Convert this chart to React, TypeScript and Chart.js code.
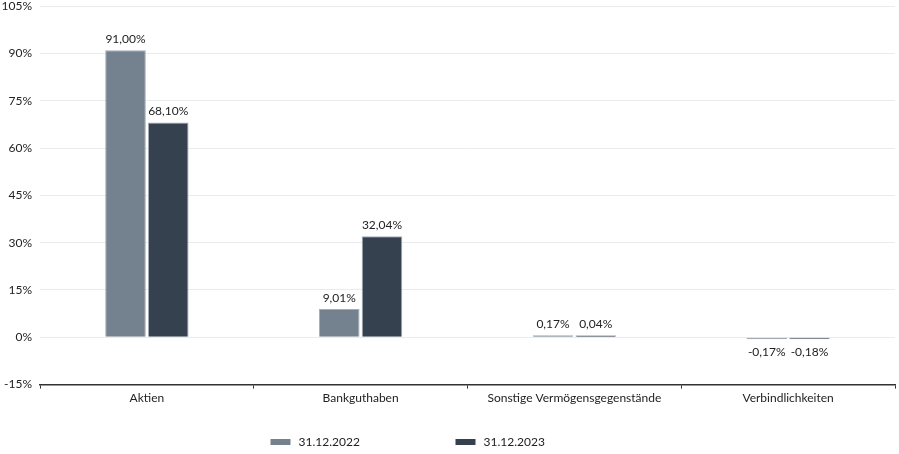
import { Chart, registerables } from 'chart.js';
import { useEffect, useRef } from 'react';

Chart.register(...registerables);

const categories = ['Aktien', 'Bankguthaben', 'Sonstige Vermögensgegenstände', 'Verbindlichkeiten'];
const seriesLabels = ['31.12.2022', '31.12.2023'];
const values2022 = [91.0, 9.01, 0.17, -0.17];
const values2023 = [68.1, 32.04, 0.04, -0.18];
const colors = ['#748290', '#36414f'];
const yMin = -15;
const yMax = 105;
const yStep = 15;

const FONT = 'Lato, "Open Sans", sans-serif';

const fmt = (v: number) => v.toFixed(2).replace('.', ',') + '%';

// Werte über/unter die Balken schreiben
const valueLabels = {
	id: 'valueLabels',
	afterDatasetsDraw(chart: any) {
		const ctx = chart.ctx;
		ctx.save();
		ctx.font = `12px ${FONT}`;
		ctx.fillStyle = '#222';
		ctx.textAlign = 'center';
		chart.data.datasets.forEach((ds: any, i: number) => {
			const meta = chart.getDatasetMeta(i);
			meta.data.forEach((bar: any, j: number) => {
				const v = ds.data[j] as number;
				if (v >= 0) {
					ctx.textBaseline = 'bottom';
					ctx.fillText(fmt(v), bar.x, bar.y - 5);
				} else {
					ctx.textBaseline = 'top';
					ctx.fillText(fmt(v), bar.x, bar.y + 7);
				}
			});
		});
		ctx.restore();
	},
};

// eigene Legende unten (breite Abstände)
const bottomLegend = {
	id: 'bottomLegend',
	afterDraw(chart: any) {
		const ctx = chart.ctx;
		const y = chart.height - 12;
		const x0 = chart.width / 2 - 179;
		ctx.save();
		ctx.font = `12px ${FONT}`;
		ctx.textBaseline = 'middle';
		ctx.textAlign = 'left';
		chart.data.datasets.forEach((ds: any, i: number) => {
			const x = x0 + i * 185;
			ctx.fillStyle = ds.backgroundColor;
			ctx.fillRect(x, y - 3, 20, 6);
			ctx.fillStyle = '#222';
			ctx.fillText(ds.label, x + 28, y);
		});
		ctx.restore();
	},
};

export default function App() {
	const canvas = useRef<HTMLCanvasElement | null>(null);
	useEffect(() => {
		if (!canvas.current) return;
		const chart = new Chart(canvas.current, {
			type: 'bar',
			data: {
				labels: categories,
				datasets: [
					{
						label: seriesLabels[0],
						data: values2022,
						backgroundColor: colors[0],
						borderColor: '#a4adb6',
						borderWidth: 1,
					},
					{
						label: seriesLabels[1],
						data: values2023,
						backgroundColor: colors[1],
						borderColor: '#a4adb6',
						borderWidth: 1,
					},
				],
			},
			plugins: [valueLabels, bottomLegend],
			options: {
				responsive: true,
				maintainAspectRatio: false,
				animation: false,
				datasets: { bar: { categoryPercentage: 0.4, barPercentage: 0.95, minBarLength: 2 } },
				layout: { padding: { top: 0, right: 4, left: 0, bottom: 47 } },
				plugins: {
					tooltip: { enabled: false },
					legend: { display: false },
				},
				scales: {
					x: {
						grid: {
							display: true,
							drawOnChartArea: false,
							drawTicks: true,
							tickLength: 4,
							color: '#333',
						},
						border: { display: true, color: '#333', width: 1.5 },
						ticks: { color: '#222', padding: 2, font: { family: FONT, size: 12 } },
					},
					y: {
						min: yMin,
						max: yMax,
						afterFit(scale: any) {
							scale.width = 40;
						},
						grid: { color: '#e9ecef', drawTicks: false },
						border: { display: false },
						ticks: {
							stepSize: yStep,
							padding: 8,
							color: '#222',
							font: { family: FONT, size: 12 },
							callback: (v: any) => `${v}%`,
						},
					},
				},
			},
		});
		return () => chart.destroy();
	}, []);

	return (
		<div style={{ position: 'fixed', left: 0, top: -9, width: 899, height: 463 }}>
			<canvas ref={canvas}></canvas>
		</div>
	);
}
